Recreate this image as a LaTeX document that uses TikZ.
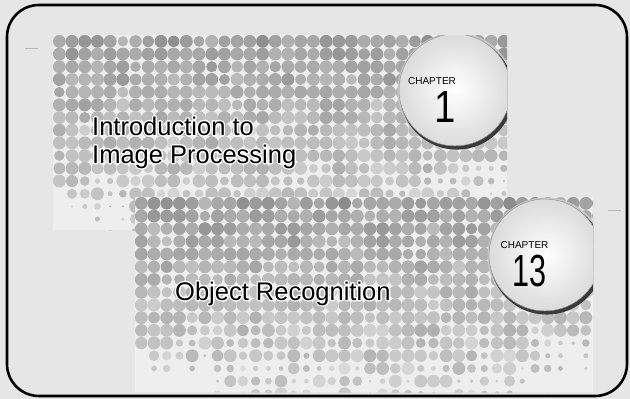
\documentclass[tikz,border=0pt]{standalone}
\usepackage{fontspec}
\setmainfont{Liberation Sans}
\definecolor{bggray}{HTML}{E6E6E6}
\definecolor{panelgray}{HTML}{EEEEEE}
\definecolor{tickgray}{HTML}{B8B8B8}
\definecolor{rimdark}{HTML}{3A3A3A}

\tikzset{
  frame/.style={draw=black, line width=2.6pt, rounded corners=32pt},
  tickmark/.style={draw=tickgray, line width=0.8pt},
  title/.style={inner sep=0pt, anchor=base west, font=\fontsize{25.5}{30}\selectfont},
  halo/.style={title, text=white},
  chaplabel/.style={inner sep=0pt, font=\fontsize{10}{12}\selectfont},
  chapnum/.style={inner sep=0pt, font=\fontsize{45}{48}\selectfont},
}

% white outline of a text: stroke only, drawn under the black text
\newcommand{\outlined}[1]{\special{pdf:code q 1 Tr 1 G 2.8 w 1 j}#1\special{pdf:code Q}}

% one field of halftone dots: x0, y0, columns, rows
\newcommand{\halftone}[4]{%
  \foreach \ci in {0,...,#3}{%
    \foreach \cj in {0,...,#4}{%
      \pgfmathsetmacro\dx{#1+6.35+12.7*\ci}%
      \pgfmathsetmacro\dy{#2+6.35+12.7*\cj}%
      \pgfmathsetmacro\du{\ci/#3}%
      \pgfmathsetmacro\dv{\cj/#4}%
      \pgfmathsetmacro\df{1.25 - 0.7*max(0,\dv-0.6)/0.4
          - 1.4*max(0,\du-0.8)/0.2*max(0,\dv-0.5)/0.5
          - 1.3*max(0,0.2-\du)/0.2*max(0,\dv-0.65)/0.35}%
      \pgfmathsetmacro\dr{6.45*min(1,max(0,\df+0.9*(rnd-0.5)))}%
      \pgfmathsetmacro\dg{int(17+9*rnd+16*(1-\dv)^1.5+4*sin(\ci*53)*cos(\cj*71))}%
      \ifdim\dr pt>0.9pt \fill[black!\dg] (\dx,\dy) circle[radius=\dr pt];\fi
    }%
  }%
}

% the chapter disc, clipped by the panel it sits on
\newcommand{\chapdisc}[2]{%
  \fill[black!22] (#1+1,#2+1) circle[radius=58.5pt];
  \fill[rimdark] (#1+1.8,#2+2.6) circle[radius=57pt];
  \shade[inner color=white, outer color=black!14] (#1,#2) circle[radius=55.8pt];
  \draw[black!40, line width=0.5pt] (#1,#2) circle[radius=56pt];
}

\begin{document}
\begin{tikzpicture}[x=1pt, y=-1pt]
  \useasboundingbox (0,0) rectangle (630,399);
  \fill[bggray] (0,0) rectangle (630,399);

  % outer frame
  \draw[frame] (7,5) rectangle (627,396);

  % small tick marks
  \coordinate (t1a) at (25,48);  \coordinate (t1b) at (38,48);
  \coordinate (t2a) at (107,210); \coordinate (t2b) at (120,210);
  \coordinate (t3a) at (608,210); \coordinate (t3b) at (621,210);
  \draw[tickmark] (t1a) -- (t1b);
  \draw[tickmark] (t2a) -- (t2b);
  \draw[tickmark] (t3a) -- (t3b);

  % first panel
  \pgfmathsetseed{4711}
  \begin{scope}
    \clip (53,35) rectangle (507,230);
    \fill[panelgray] (53,35) rectangle (507,230);
    \halftone{53}{35}{35}{15}
    \chapdisc{455}{90}
  \end{scope}

  % second panel
  \begin{scope}
    \clip (135,197) rectangle (593,392);
    \fill[panelgray] (135,197) rectangle (593,392);
    \halftone{135}{197}{36}{15}
    \chapdisc{545}{255}
  \end{scope}

  % chapter labels
  \node[chaplabel] (c1) at (432,81.5) {CHAPTER};
  \node[chapnum] (n1) at (445,107.5) {\scalebox{0.85}[1]{1}};
  \node[chaplabel] (c13) at (524.5,245.5) {CHAPTER};
  \node[chapnum] (n13) at (529.5,271.5) {\scalebox{0.68}[1]{13}};

  % titles: white outline first, black text on top
  \node[halo] (introhalo) at (92,135) {\outlined{Introduction to}};
  \node[title] (intro) at (92,135) {Introduction to};
  \node[halo] (improchalo) at (92,163) {\outlined{Image Processing}};
  \node[title] (improc) at (92,163) {Image Processing};
  \node[halo] (objrechalo) at (175,300) {\outlined{Object Recognition}};
  \node[title] (objrec) at (175,300) {Object Recognition};
\end{tikzpicture}
\end{document}
